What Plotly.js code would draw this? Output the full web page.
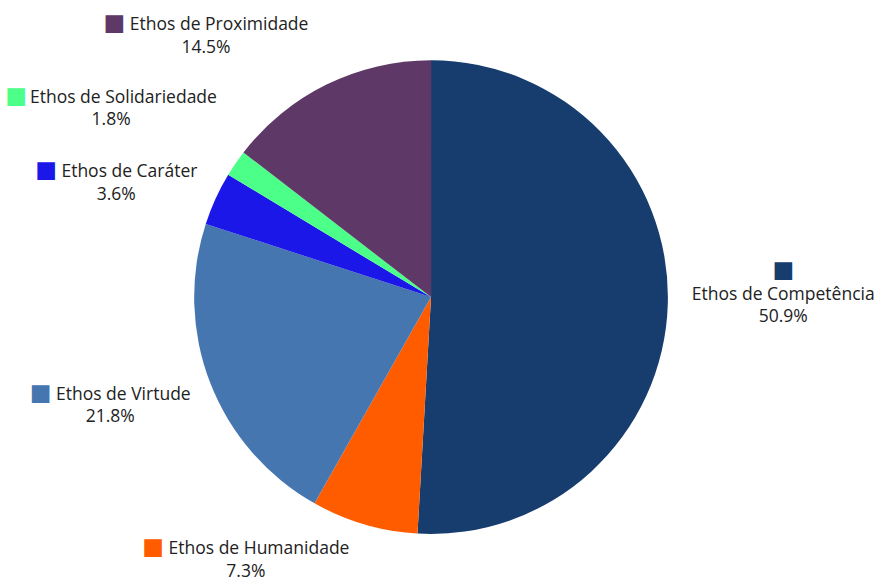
<!DOCTYPE html>
<html>
<head>
<meta charset="utf-8">
<script src="https://cdn.plot.ly/plotly-3.0.1.min.js"></script>
<style>
html,body{margin:0;padding:0;background:#fff;}
#chart{width:895px;height:585px;}
#chart path.textline{display:none !important;}
</style>
</head>
<body>
<div id="chart"></div>
<script>
const categories = ["Ethos de Competência", "Ethos de Humanidade", "Ethos de Virtude", "Ethos de Caráter", "Ethos de Solidariedade", "Ethos de Proximidade"];
const counts = [28, 4, 12, 2, 1, 8];
const sliceColors = ["#163d6e", "#ff5c00", "#4676b0", "#1a17e8", "#4bff88", "#5e3866"];

const square = '<span style="color:%{color};font-size:23px;font-family:DejaVu Sans">■</span>';
const pad = px => '<span style="font-size:' + px + 'px">\u00a0</span>';
const inlineTemplate = square + ' %{label}<br>%{percent:.1%}';
const narrowTemplate = square + '\u2009%{label}<br>%{percent:.1%}';
const stackedTemplate = square + '<br>%{label}<br>%{percent:.1%}';
// blank spacer lines push each outside label a little further from the pie
const templates = [
  stackedTemplate + '<br>' + pad(24),
  pad(8) + '<br>' + inlineTemplate,
  pad(26) + '<br>' + inlineTemplate,
  inlineTemplate + '<br>' + pad(22),
  narrowTemplate + '<br>' + pad(28),
  inlineTemplate + '<br>' + pad(20)
];

const trace = {
  type: "pie",
  labels: categories,
  values: counts,
  sort: false,
  direction: "clockwise",
  rotation: 0,
  marker: { colors: sliceColors, line: { width: 0 } },
  textposition: "outside",
  texttemplate: templates,
  textfont: { family: "'Open Sans', sans-serif", size: 17.5, color: "#222222" },
  hoverinfo: "label+percent",
  showlegend: false,
  domain: { x: [0.2168, 0.7464], y: [0.0872, 0.897] }
};

const layout = {
  width: 895,
  height: 585,
  margin: { l: 0, r: 0, t: 0, b: 0 },
  paper_bgcolor: "#ffffff",
  showlegend: false,
  font: { family: "'Open Sans', sans-serif", color: "#222222" }
};

Plotly.newPlot("chart", [trace], layout, { displayModeBar: false, staticPlot: true });
</script>
</body>
</html>
